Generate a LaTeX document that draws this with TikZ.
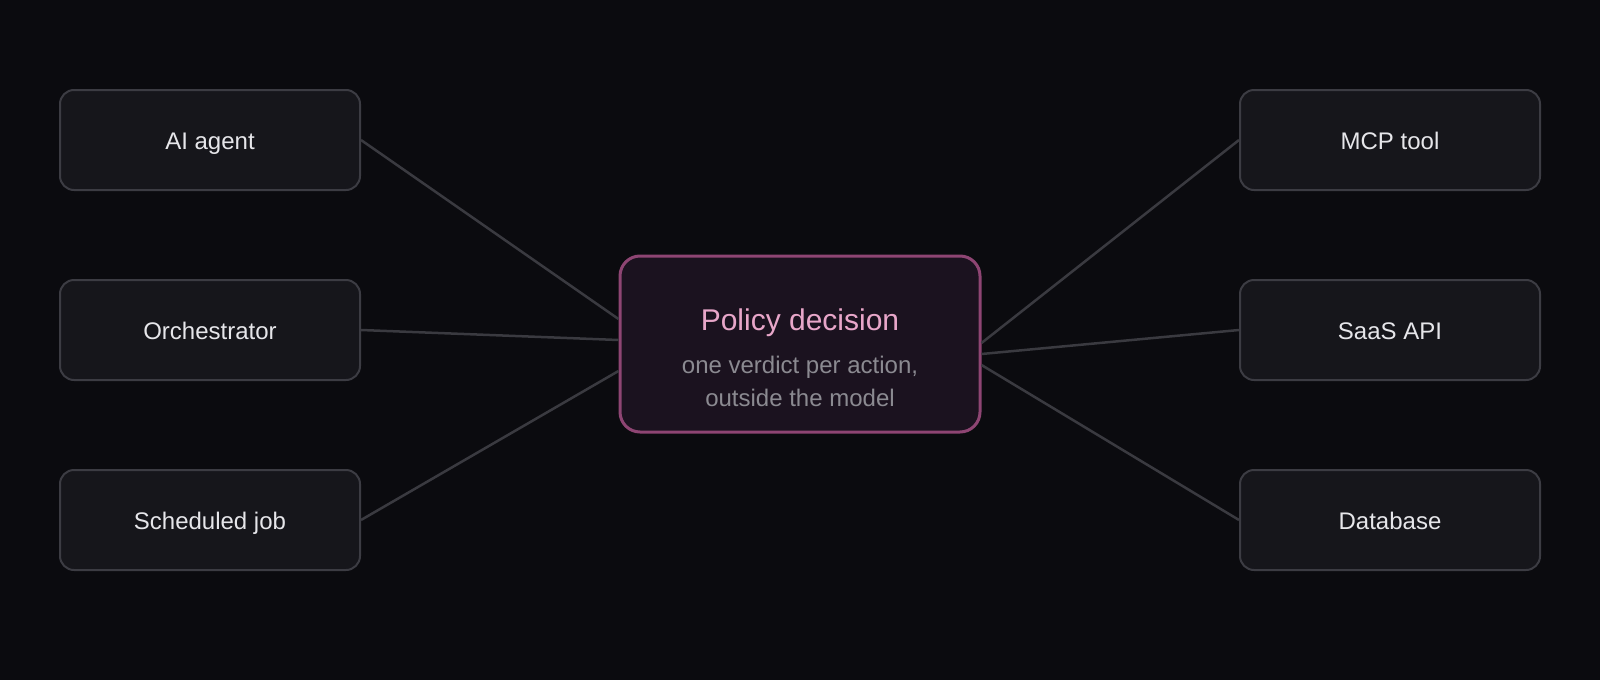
\documentclass[tikz,border=0pt]{standalone}
\usepackage{fontspec}
\setmainfont{Liberation Sans}
\usepackage{tikz}
\usetikzlibrary{calc}
\definecolor{bgdark}{HTML}{0B0B0F}
\definecolor{boxfill}{HTML}{16161B}
\definecolor{boxline}{HTML}{3C3C43}
\definecolor{wireline}{HTML}{3A3A40}
\definecolor{hubfill}{HTML}{1B121F}
\definecolor{hubline}{HTML}{8E4573}
\definecolor{hubtitle}{HTML}{E8A6C9}
\definecolor{hubsub}{HTML}{8B8A91}
\definecolor{boxtext}{HTML}{E6E6EA}
\tikzset{
	srcbox/.style={draw=boxline, fill=boxfill, line width=2pt, rounded corners=14pt,
		minimum width=300pt, minimum height=100pt, inner sep=0pt,
		text=boxtext, text height=18pt, text depth=0pt, font=\fontsize{24}{29}\selectfont},
	hubbox/.style={draw=hubline, fill=hubfill, line width=3pt, rounded corners=20pt,
		minimum width=360pt, minimum height=176pt, inner sep=0pt},
	hubtext/.style={anchor=base, inner sep=0pt, text=hubtitle, font=\fontsize{30}{36}\selectfont},
	subtext/.style={anchor=base, inner sep=0pt, text=hubsub, font=\fontsize{24}{33}\selectfont},
	wire/.style={draw=wireline, line width=2.5pt}
}

\begin{document}
\begin{tikzpicture}[x=1pt, y=-1pt]
			%%%%% START %%%%%
			
			\fill[bgdark] (0, 0) rectangle (1600, 680);
			\useasboundingbox (0, 0) rectangle (1600, 680);
			
			\node[srcbox] (ai) at (210, 140) {AI agent};
			\node[srcbox] (orch) at (210, 330) {Orchestrator};
			\node[srcbox] (sched) at (210, 520) {Scheduled job};
			
			\node[srcbox] (mcp) at (1390, 140) {MCP tool};
			\node[srcbox] (saas) at (1390, 330) {SaaS API};
			\node[srcbox] (db) at (1390, 520) {Database};
			
			\node[hubbox] (pd) at (800, 344) {};
			\node[hubtext] (pdtitle) at (800, 330) {Policy decision};
			\node[subtext] (pdsuba) at (800, 373) {one verdict per action,};
			\node[subtext] (pdsubb) at (800, 406) {outside the model};
			
			\draw[wire] (ai.east) -- ([yshift=25pt]pd.west);
			\draw[wire] (orch.east) -- ([yshift=4pt]pd.west);
			\draw[wire] (sched.east) -- ([yshift=-27pt]pd.west);
			
			\draw[wire] (mcp.west) -- ([yshift=1pt]pd.east);
			\draw[wire] (saas.west) -- ([yshift=-10pt]pd.east);
			\draw[wire] (db.west) -- ([yshift=-21pt]pd.east);
			
			%%%%% END %%%%%
		\end{tikzpicture}
\end{document}
